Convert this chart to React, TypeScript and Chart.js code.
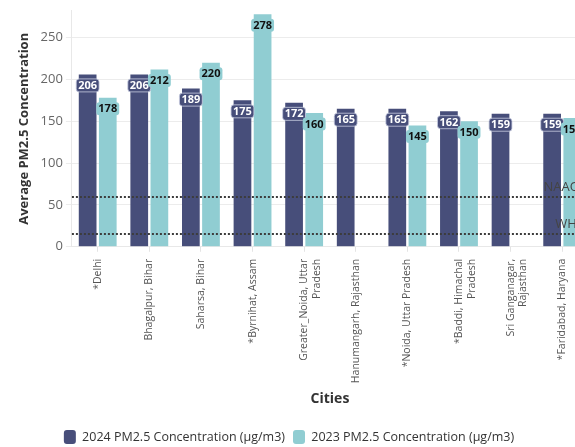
import React, { useEffect, useRef } from 'react';
import { Chart, registerables } from 'chart.js';

Chart.register(...registerables);

const categories: (string | string[])[] = [
  '*Delhi',
  'Bhagalpur, Bihar',
  'Saharsa, Bihar',
  '*Byrnihat, Assam',
  ['Greater_Noida, Uttar', 'Pradesh'],
  'Hanumangarh, Rajasthan',
  '*Noida, Uttar Pradesh',
  ['*Baddi, Himachal', 'Pradesh'],
  ['Sri Ganganagar,', 'Rajasthan'],
  '*Faridabad, Haryana',
];
const values2024: (number | null)[] = [206, 206, 189, 175, 172, 165, 165, 162, 159, 159];
const values2023: (number | null)[] = [178, 212, 220, 278, 160, null, 145, 150, null, 154];
const seriesLabels = ['2024 PM2.5 Concentration (μg/m3)', '2023 PM2.5 Concentration (μg/m3)'];
const yTickValues = [0, 50, 100, 150, 200, 250];
const refLineLabels = ['NAAQS', 'WHO'];
const refLineValues = [60, 15];

const FONT = '"Open Sans", "DejaVu Sans", sans-serif';
const NAVY = '#474e7a';
const TEAL = '#90cdd2';

const refLinePlugin = {
  id: 'refLines',
  afterDatasetsDraw(chart: any) {
    const { ctx, chartArea, scales } = chart;
    const y = scales.y;
    ctx.save();
    refLineValues.forEach((v, i) => {
      const py = Math.round(y.getPixelForValue(v));
      ctx.strokeStyle = '#3c3c3c';
      ctx.lineWidth = 2;
      ctx.setLineDash([2, 2]);
      ctx.beginPath();
      ctx.moveTo(chartArea.left, py);
      ctx.lineTo(chartArea.right, py);
      ctx.stroke();
      ctx.setLineDash([]);
      ctx.fillStyle = '#444';
      ctx.font = `13px ${FONT}`;
      ctx.textAlign = 'right';
      ctx.textBaseline = 'middle';
      ctx.fillText(refLineLabels[i], chartArea.right - 1, py - 10);
    });
    ctx.restore();
  },
};

const barLabelPlugin = {
  id: 'barLabels',
  afterDatasetsDraw(chart: any) {
    const { ctx } = chart;
    ctx.save();
    chart.data.datasets.forEach((ds: any, di: number) => {
      const meta = chart.getDatasetMeta(di);
      meta.data.forEach((bar: any, i: number) => {
        const v = ds.data[i];
        if (v == null) return;
        const text = String(v);
        ctx.font = `bold 11px ${FONT}`;
        const w = ctx.measureText(text).width + 4;
        const h = 13;
        const cx = bar.x;
        const cy = bar.y + 11;
        ctx.beginPath();
        (ctx as any).roundRect(cx - w / 2, cy - h / 2, w, h, 3);
        ctx.fillStyle = di === 0 ? NAVY : TEAL;
        ctx.fill();
        if (di === 0) {
          ctx.strokeStyle = 'rgba(200,205,225,0.8)';
          ctx.lineWidth = 1;
          ctx.stroke();
        }
        ctx.fillStyle = di === 0 ? '#ffffff' : '#111111';
        ctx.textAlign = 'center';
        ctx.textBaseline = 'middle';
        ctx.fillText(text, cx, cy + 0.5);
      });
    });
    ctx.restore();
  },
};

export default function App() {
  const ref = useRef<HTMLCanvasElement | null>(null);
  useEffect(() => {
    if (!ref.current) return;
    const chart = new Chart(ref.current, {
      type: 'bar',
      data: {
        labels: categories as any,
        datasets: [
          {
            label: seriesLabels[0],
            data: values2024,
            backgroundColor: NAVY,
            categoryPercentage: 0.78,
            barPercentage: 0.88,
          },
          {
            label: seriesLabels[1],
            data: values2023,
            backgroundColor: TEAL,
            categoryPercentage: 0.78,
            barPercentage: 0.88,
          },
        ],
      },
      options: {
        responsive: false,
        animation: false,
        devicePixelRatio: 1,
        layout: { padding: { left: 0, right: 2, top: 8, bottom: 0 } },
        plugins: {
          tooltip: { enabled: false },
          legend: {
            position: 'bottom',
            labels: {
              font: { family: FONT, size: 12.5 },
              color: '#333',
              boxWidth: 12,
              boxHeight: 14,
              padding: 8,
              useBorderRadius: true,
              borderRadius: 3,
            } as any,
          },
        },
        scales: {
          x: {
            grid: { drawOnChartArea: false, offset: false, tickLength: 5, color: '#e4e4e4' },
            border: { color: '#e8e8e8' },
            ticks: {
              minRotation: 90,
              maxRotation: 90,
              autoSkip: false,
              font: { family: FONT, size: 10.5 },
              color: '#555',
              padding: 7,
            },
            title: {
              display: true,
              text: 'Cities',
              font: { family: FONT, size: 14, weight: 'bold' },
              color: '#333',
              padding: { top: 0, bottom: 15 },
            },
          },
          y: {
            min: 0,
            max: 282,
            afterBuildTicks: (axis: any) => {
              axis.ticks = yTickValues.map((v) => ({ value: v }));
            },
            grid: { color: '#ececec', tickLength: 6 },
            border: { color: '#e8e8e8' },
            ticks: {
              font: { family: FONT, size: 13 },
              color: '#666',
              padding: 3,
            },
            title: {
              display: true,
              text: 'Average PM2.5 Concentration',
              font: { family: FONT, size: 13, weight: 'bold' },
              color: '#333',
              padding: { top: 26, bottom: 6 },
            },
          },
        },
      },
      plugins: [refLinePlugin, barLabelPlugin],
    });
    return () => chart.destroy();
  }, []);

  return (
    <div
      style={{
        position: 'fixed',
        left: 0,
        top: 0,
        width: 575,
        height: 447,
        overflow: 'hidden',
        background: '#fff',
      }}
    >
      <canvas
        ref={ref}
        width={600}
        height={454}
        style={{ position: 'absolute', left: -10, top: 0, width: 600, height: 454 }}
      />
    </div>
  );
}
